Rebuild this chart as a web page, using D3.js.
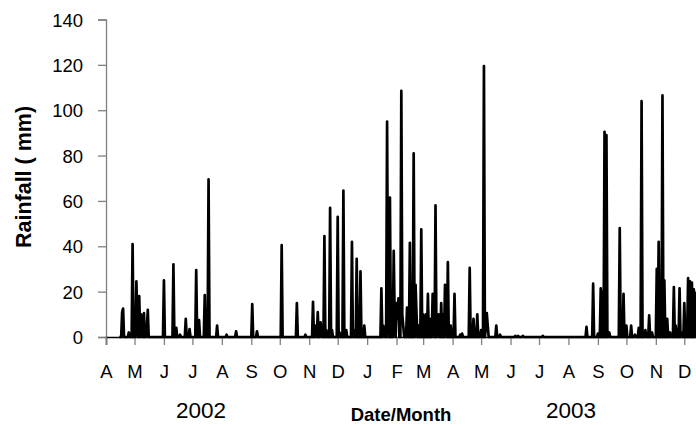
<!DOCTYPE html>
<html>
<head>
<meta charset="utf-8">
<script src="https://cdn.jsdelivr.net/npm/d3@7"></script>
<style>
  html, body { margin: 0; padding: 0; background: #fff; }
  svg { display: block; }
  text { font-family: "Liberation Sans", Arial, sans-serif; fill: #000; }
</style>
</head>
<body>
<svg id="chart" width="696" height="425"></svg>
<script>
// ---- data ----
const seriesStart = "2002-04-15";
const seriesLast = "2003-12-14";
// rain days (all other days in the record had 0 mm)
const rainDates = [
  "2002-04-18","2002-04-19","2002-04-25","2002-04-29","2002-05-03","2002-05-04","2002-05-06","2002-05-08",
  "2002-05-09","2002-05-11","2002-05-14","2002-05-15","2002-06-01","2002-06-11","2002-06-14","2002-06-18",
  "2002-06-24","2002-06-28","2002-07-05","2002-07-08","2002-07-14","2002-07-18","2002-07-27","2002-08-06",
  "2002-08-16","2002-09-02","2002-09-07","2002-10-03","2002-10-19","2002-10-28","2002-11-05","2002-11-07",
  "2002-11-08","2002-11-10","2002-11-13","2002-11-14","2002-11-17","2002-11-19","2002-11-23","2002-11-25",
  "2002-12-01","2002-12-03","2002-12-07","2002-12-10","2002-12-16","2002-12-18","2002-12-21","2002-12-23",
  "2002-12-25","2002-12-29","2003-01-16","2003-01-18","2003-01-19","2003-01-22","2003-01-23","2003-01-25",
  "2003-01-27","2003-01-29","2003-01-30","2003-02-01","2003-02-02","2003-02-03","2003-02-06","2003-02-07",
  "2003-02-08","2003-02-12","2003-02-15","2003-02-17","2003-02-19","2003-02-21","2003-02-22","2003-02-24",
  "2003-02-27","2003-03-01","2003-03-04","2003-03-06","2003-03-08","2003-03-11","2003-03-12","2003-03-14",
  "2003-03-16","2003-03-17","2003-03-20","2003-03-22","2003-03-24","2003-03-25","2003-03-27","2003-03-30",
  "2003-04-03","2003-04-09","2003-04-11","2003-04-19","2003-04-23","2003-04-27","2003-05-01","2003-05-04",
  "2003-05-06","2003-05-07","2003-05-08","2003-05-17","2003-05-21","2003-06-06","2003-06-09","2003-06-14",
  "2003-07-05","2003-08-20","2003-08-27","2003-09-01","2003-09-04","2003-09-06","2003-09-08","2003-09-10",
  "2003-09-13","2003-09-24","2003-09-28","2003-10-01","2003-10-06","2003-10-10","2003-10-14","2003-10-17",
  "2003-10-21","2003-10-25","2003-10-28","2003-11-02","2003-11-04","2003-11-06","2003-11-08","2003-11-10",
  "2003-11-13","2003-11-16","2003-11-20","2003-11-22","2003-11-24","2003-11-26","2003-11-28","2003-12-01",
  "2003-12-03","2003-12-05","2003-12-07","2003-12-09","2003-12-11","2003-12-13","2003-12-14"
];
const rainValues = [
  11,12.5,2,41,24.5,8,18,10,
  3,10.5,3,12,25,32,4,1,
  8,3.5,29.5,7.5,18.5,69.5,5,1,
  2.5,14.5,2.5,40.5,15,1,15.5,4,
  5,11,6.5,2,44.5,3,57,3,
  53,2,64.5,3,42,3,34.5,4,
  29,5,21.5,5,3,95,10,61.5,
  5,38,8,15,8,17,108.5,10,
  5,13,41.5,23,81,23,10,5,
  47.5,10,10,19,8,19,6,58,
  5,10,15,10,23,12,33,5,
  19,1,1.5,30.5,8,10,3,119.5,
  4,10.5,5,5,1,0.5,0.5,0.5,
  0.5,4.5,23.5,1.5,21.5,20,90.5,89,
  2,48,19,5,5,1,4,104,
  3,9.5,2,30,42,25,106.5,25,
  8,2,22,5,3,21.5,2,15,
  5,26,24.5,24,21,15,20
];
const yTicks = [0, 20, 40, 60, 80, 100, 120, 140];
const monthLabels = ["A","M","J","J","A","S","O","N","D","J","F","M","A","M","J","J","A","S","O","N","D"];
const yearLabels = ["2002", "2003"];
const yTitle = "Rainfall ( mm)";
const xTitle = "Date/Month";

// ---- build daily series ----
const parse = d3.utcParse("%Y-%m-%d");
const rainByDay = new Map(rainDates.map((d, i) => [d, rainValues[i]]));
const fmt = d3.utcFormat("%Y-%m-%d");
const days = d3.utcDay.range(parse(seriesStart), d3.utcDay.offset(parse(seriesLast), 1));
const series = days.map(d => ({ date: d, v: rainByDay.get(fmt(d)) || 0 }));

// ---- layout ----
const svg = d3.select("#chart");
const axisStart = parse("2002-04-01");
const axisEnd = parse("2003-12-31");
const pxPerDay = 0.9496;
const x0 = 106;
const x = d3.scaleUtc().domain([axisStart, axisEnd])
  .range([x0, x0 + pxPerDay * d3.utcDay.count(axisStart, axisEnd)]);
const y = d3.scaleLinear().domain([0, 140]).range([337, 19.5]);

// y axis
const yAxis = svg.append("g").attr("transform", `translate(${x0},0)`)
  .call(d3.axisLeft(y).tickValues(yTicks).tickSize(8).tickPadding(15).tickFormat(d3.format("d")));
yAxis.select(".domain").attr("stroke", "#808080").attr("stroke-width", 1.3);
yAxis.selectAll(".tick line").attr("stroke", "#808080").attr("stroke-width", 1.3);
yAxis.selectAll("text").attr("font-size", 18.5).attr("font-family", "Liberation Sans, Arial, sans-serif").attr("dy", "0.36em");

// x axis
const monthTicks = d3.utcMonth.range(axisStart, d3.utcDay.offset(parse("2003-12-01"), 1));
const xAxis = svg.append("g").attr("transform", "translate(0,337)")
  .call(d3.axisBottom(x).tickValues(monthTicks).tickSize(8).tickPadding(20)
    .tickFormat((d, i) => monthLabels[i]));
xAxis.select(".domain").attr("stroke", "#000").attr("stroke-width", 1.5);
xAxis.selectAll(".tick line").attr("stroke", "#808080").attr("stroke-width", 1.3);
xAxis.selectAll("text").attr("font-size", 18.5).attr("font-family", "Liberation Sans, Arial, sans-serif").attr("dy", "0.71em");

// line
const line = d3.line().x(d => x(d.date)).y(d => y(d.v));
svg.append("path").datum(series)
  .attr("d", line)
  .attr("fill", "none")
  .attr("stroke", "#000")
  .attr("stroke-width", 2.7)
  .attr("stroke-linejoin", "round");

// titles
svg.append("text").attr("transform", "translate(31,177) rotate(-90)")
  .attr("text-anchor", "middle").attr("font-weight", "bold").attr("font-size", 21.5)
  .text(yTitle);
svg.append("text").attr("x", 401).attr("y", 421).attr("text-anchor", "middle")
  .attr("font-weight", "bold").attr("font-size", 18.5).text(xTitle);
svg.append("text").attr("x", 201).attr("y", 418).attr("text-anchor", "middle")
  .attr("font-size", 22.5).text(yearLabels[0]);
svg.append("text").attr("x", 571).attr("y", 418).attr("text-anchor", "middle")
  .attr("font-size", 22.5).text(yearLabels[1]);
</script>
</body>
</html>
